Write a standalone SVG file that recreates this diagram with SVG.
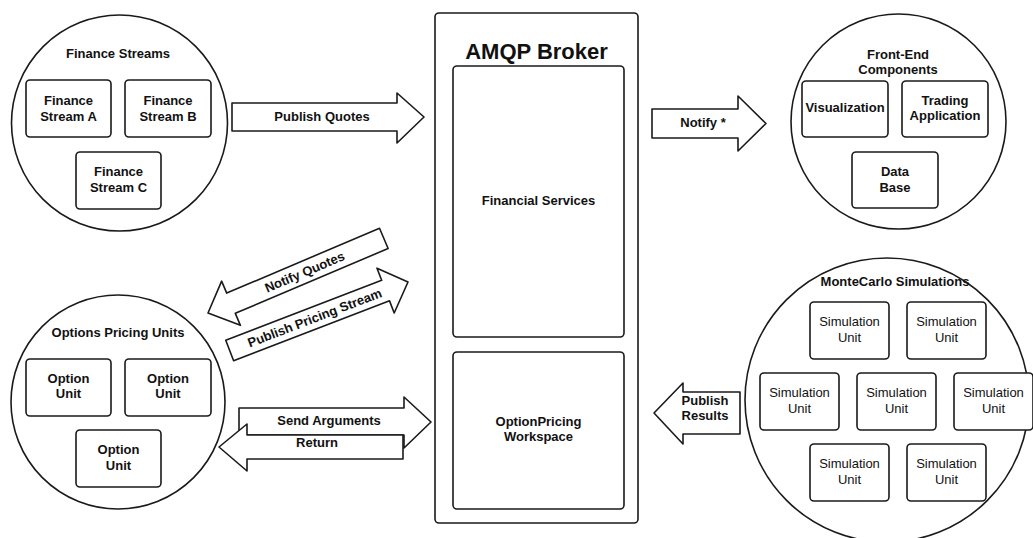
<svg xmlns="http://www.w3.org/2000/svg" width="1033" height="538" viewBox="0 0 1033 538">
<style>
.shape{fill:#fff;stroke:#1a1a1a;stroke-width:1.6;stroke-linejoin:round}
.b{font-family:"Liberation Sans",Arial,sans-serif;font-weight:bold;font-size:13px;fill:#111;text-anchor:middle;dominant-baseline:central}
.n{font-family:"Liberation Sans",Arial,sans-serif;font-size:13px;fill:#111;text-anchor:middle;dominant-baseline:central}
.t{font-family:"Liberation Sans",Arial,sans-serif;font-weight:bold;font-size:22px;fill:#111;text-anchor:middle;dominant-baseline:central}
</style>
<rect width="1033" height="538" fill="#fff"/>

<g id="finance-streams">
<circle class="shape" cx="119.5" cy="123" r="108"/>
<text class="b" x="118" y="53">Finance Streams</text>
<g id="stream-a"><rect class="shape" x="26" y="80" width="85" height="57" rx="4"/><text class="b" x="68.5" y="100.5">Finance</text><text class="b" x="68.5" y="116">Stream A</text></g>
<g id="stream-b"><rect class="shape" x="125" y="80" width="86" height="57" rx="4"/><text class="b" x="168" y="100.5">Finance</text><text class="b" x="168" y="116">Stream B</text></g>
<g id="stream-c"><rect class="shape" x="76" y="152" width="85" height="57" rx="4"/><text class="b" x="118.5" y="171.5">Finance</text><text class="b" x="118.5" y="187">Stream C</text></g>
</g>

<g id="front-end">
<circle class="shape" cx="898.5" cy="121.5" r="107.5"/>
<text class="b" x="898" y="54">Front-End</text>
<text class="b" x="898" y="69">Components</text>
<g id="visualization"><rect class="shape" x="802" y="81" width="86" height="56" rx="4"/><text class="b" x="845" y="107">Visualization</text></g>
<g id="trading"><rect class="shape" x="902" y="81" width="86" height="56" rx="4"/><text class="b" x="945" y="100">Trading</text><text class="b" x="945" y="115">Application</text></g>
<g id="database"><rect class="shape" x="852" y="152" width="86" height="56" rx="4"/><text class="b" x="895" y="171">Data</text><text class="b" x="895" y="187">Base</text></g>
</g>

<g id="amqp-broker">
<rect class="shape" x="435" y="13" width="203" height="510" rx="4"/>
<text class="t" x="536.5" y="51">AMQP Broker</text>
<g id="financial-services"><rect class="shape" x="453" y="66" width="171" height="271" rx="4"/><text class="b" x="538.5" y="200">Financial Services</text></g>
<g id="option-workspace"><rect class="shape" x="453" y="352" width="171" height="157" rx="4"/><text class="b" x="538.5" y="421">OptionPricing</text><text class="b" x="538.5" y="436.5">Workspace</text></g>
</g>

<g id="options-pricing">
<circle class="shape" cx="118" cy="402" r="107"/>
<text class="b" x="118" y="332">Options Pricing Units</text>
<g id="option-1"><rect class="shape" x="26" y="359" width="85" height="57" rx="4"/><text class="b" x="68.5" y="378">Option</text><text class="b" x="68.5" y="393.5">Unit</text></g>
<g id="option-2"><rect class="shape" x="125" y="359" width="86" height="57" rx="4"/><text class="b" x="168" y="378">Option</text><text class="b" x="168" y="393.5">Unit</text></g>
<g id="option-3"><rect class="shape" x="76" y="430" width="85" height="57" rx="4"/><text class="b" x="118.5" y="449.5">Option</text><text class="b" x="118.5" y="465">Unit</text></g>
</g>

<g id="montecarlo">
<circle class="shape" cx="887" cy="400" r="142"/>
<text class="b" x="895" y="281">MonteCarlo Simulations</text>
<g id="sim-1"><rect class="shape" x="810" y="302" width="79" height="57" rx="4"/><text class="n" x="849.5" y="321.5">Simulation</text><text class="n" x="849.5" y="337">Unit</text></g>
<g id="sim-2"><rect class="shape" x="907" y="302" width="79" height="57" rx="4"/><text class="n" x="946.5" y="321.5">Simulation</text><text class="n" x="946.5" y="337">Unit</text></g>
<g id="sim-3"><rect class="shape" x="760" y="373" width="79" height="57" rx="4"/><text class="n" x="799.5" y="392.5">Simulation</text><text class="n" x="799.5" y="408">Unit</text></g>
<g id="sim-4"><rect class="shape" x="857" y="373" width="79" height="57" rx="4"/><text class="n" x="896.5" y="392.5">Simulation</text><text class="n" x="896.5" y="408">Unit</text></g>
<g id="sim-5"><rect class="shape" x="954" y="373" width="79" height="57" rx="4"/><text class="n" x="993.5" y="392.5">Simulation</text><text class="n" x="993.5" y="408">Unit</text></g>
<g id="sim-6"><rect class="shape" x="810" y="444" width="79" height="57" rx="4"/><text class="n" x="849.5" y="463.5">Simulation</text><text class="n" x="849.5" y="479">Unit</text></g>
<g id="sim-7"><rect class="shape" x="907" y="444" width="79" height="57" rx="4"/><text class="n" x="946.5" y="463.5">Simulation</text><text class="n" x="946.5" y="479">Unit</text></g>
</g>

<g id="connectors">
<g id="publish-quotes"><path class="shape" d="M232,103 H397 V93 L424,117 L397,143 V131 H232 Z"/><text class="b" x="322" y="116">Publish Quotes</text></g>
<g id="notify-star"><path class="shape" d="M652,109 H738 V96 L766,123.5 L738,151 V138 H652 Z"/><text class="b" x="703" y="122">Notify *</text></g>
<g id="notify-quotes" transform="translate(208,313) rotate(-23)"><path class="shape" d="M0,0 L25,-24 V-11 H191 V11 H25 V24 Z"/><text class="b" x="105" y="0">Notify Quotes</text></g>
<g id="publish-pricing" transform="translate(408,282) rotate(-21)"><path class="shape" d="M0,0 L-24,-24 V-11 H-191 V11 H-24 V24 Z"/><text class="b" x="-100" y="0">Publish Pricing Stream</text></g>
<g id="send-arguments"><path class="shape" d="M239,408 H404 V397 L431,422 L404,448 V435 H239 Z"/><text class="b" x="329" y="420">Send Arguments</text></g>
<g id="return"><path class="shape" d="M403,435 V459 H247 V471 L219,447 L247,424 V435 Z"/><text class="b" x="317" y="442">Return</text></g>
<g id="publish-results"><path class="shape" d="M740,392 H683 V383 L654,413 L683,444 V434 H740 Z"/><text class="b" x="705" y="400">Publish</text><text class="b" x="705" y="415">Results</text></g>
</g>
</svg>
